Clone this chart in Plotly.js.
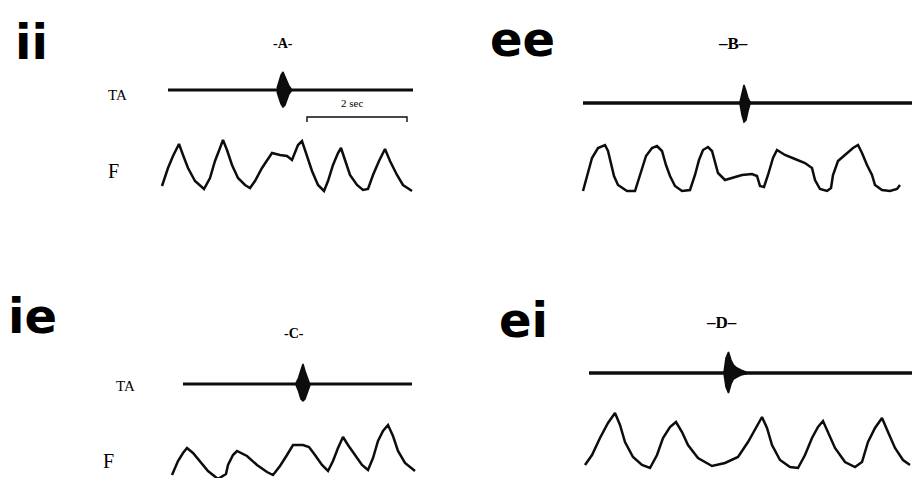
<!DOCTYPE html>
<html>
<head>
<meta charset="utf-8">
<script src="https://cdn.plot.ly/plotly-3.0.1.min.js"></script>
<style>
  html, body { margin: 0; padding: 0; background: #fff; }
  #chart { width: 912px; height: 478px; }
</style>
</head>
<body>
<div id="chart"></div>
<script>
// ---- Force (F) recordings: time in s, force in arbitrary units ----
const fA_t = [0.04,0.16,0.26,0.38,0.46,0.56,0.70,0.88,1.00,1.10,1.20,1.26,1.34,1.44,1.56,1.70,1.80,1.90,2.04,2.14,2.24,2.40,2.54,2.64,2.68,2.76,2.84,2.94,3.04,3.16,3.28,3.36,3.46,3.56,3.62,3.70,3.80,3.94,4.06,4.16,4.26,4.38,4.50,4.60,4.74,4.86,5.04];
const fA_v = [1.4,3.2,4.4,5.6,4.5,3.2,1.9,1.1,2.2,3.9,5.2,6.0,5.0,3.5,2.2,1.5,1.2,1.9,3.2,4.0,4.7,4.5,4.4,4.0,4.5,5.5,5.9,4.5,2.9,1.5,0.9,1.9,3.5,4.7,5.2,4.0,2.5,1.5,1.0,1.1,2.5,3.9,5.1,3.9,2.5,1.5,0.9];

const fB_t = [0.06,0.14,0.24,0.36,0.50,0.56,0.62,0.68,0.76,0.94,1.10,1.16,1.24,1.32,1.44,1.54,1.64,1.72,1.80,1.90,2.04,2.20,2.30,2.38,2.46,2.56,2.64,2.70,2.76,2.90,3.06,3.24,3.44,3.54,3.60,3.68,3.76,3.86,3.94,4.10,4.30,4.50,4.64,4.70,4.80,4.94,5.02,5.06,5.16,5.30,5.46,5.56,5.64,5.74,5.84,5.90,6.04,6.20,6.34,6.40];
const fB_v = [0.9,2.5,4.2,5.2,5.5,4.9,3.5,2.4,1.5,0.9,0.9,1.9,3.2,4.4,5.2,5.4,4.9,3.5,2.4,1.4,0.9,1.0,2.5,4.0,5.0,5.3,4.9,3.7,2.7,2.0,2.2,2.5,2.6,2.4,1.4,1.3,2.5,4.2,5.0,4.5,4.1,3.7,3.2,2.0,1.1,0.9,1.2,2.5,3.9,4.5,5.2,5.5,4.7,3.5,2.5,1.5,1.0,0.9,1.1,1.5];

const fC_t = [0.24,0.36,0.46,0.54,0.66,0.80,0.96,1.16,1.32,1.36,1.46,1.54,1.74,1.94,2.14,2.26,2.40,2.54,2.66,2.86,2.98,3.10,3.24,3.36,3.46,3.56,3.66,3.76,3.90,4.04,4.16,4.26,4.36,4.46,4.56,4.66,4.76,4.90,5.10];
const fC_v = [0.5,1.9,2.7,3.2,2.7,1.9,0.9,0.1,0.6,1.5,2.5,2.9,2.4,1.5,0.8,0.5,1.4,2.5,3.5,3.5,3.3,2.5,1.5,0.9,1.9,3.2,4.3,3.5,2.5,1.5,1.0,2.2,3.9,4.9,5.5,4.4,2.9,1.7,0.9];

const fD_t = [0.10,0.24,0.40,0.56,0.70,0.80,0.90,1.06,1.24,1.40,1.54,1.66,1.80,1.92,2.04,2.16,2.36,2.64,2.90,3.16,3.36,3.54,3.64,3.74,3.84,4.00,4.20,4.36,4.50,4.64,4.76,4.86,4.96,5.10,5.30,5.50,5.64,5.76,5.90,6.04,6.16,6.30,6.46,6.60];
const fD_v = [1.0,2.0,3.7,5.2,6.2,5.0,3.3,1.8,1.0,0.7,2.0,3.7,4.8,5.3,4.3,3.0,1.7,0.9,1.2,1.8,3.3,5.0,5.8,4.7,3.0,1.5,0.8,0.7,2.0,3.7,4.8,5.4,4.3,2.7,1.3,0.8,1.3,3.3,4.7,5.7,4.3,2.7,1.5,1.0];

// ---- Tibialis anterior (TA) EMG: record span (s) and burst envelope ----
const taA_span = [0.16, 5.06];
const burstA_t  = [2.34, 2.38, 2.42, 2.46, 2.50, 2.54, 2.58, 2.62];
const burstA_up = [0.15, 0.8, 1.5, 1.8, 1.3, 0.8, 0.4, 0.15];
const burstA_dn = [0.15, 0.8, 1.4, 1.7, 1.5, 1.0, 0.4, 0.15];

const taB_span = [0.06, 6.64];
const burstB_t  = [3.20, 3.24, 3.28, 3.32, 3.36, 3.40];
const burstB_up = [0.1, 0.9, 1.8, 1.2, 0.5, 0.1];
const burstB_dn = [0.1, 1.2, 1.9, 1.7, 0.8, 0.1];

const taC_span = [0.46, 5.04];
const burstC_t  = [2.72, 2.77, 2.82, 2.86, 2.90, 2.95, 3.00];
const burstC_up = [0.1, 0.6, 1.4, 2.0, 1.3, 0.6, 0.1];
const burstC_dn = [0.1, 0.7, 1.5, 1.7, 1.5, 0.8, 0.1];

const taD_span = [0.18, 6.64];
const burstD_t  = [2.88, 2.92, 2.97, 3.02, 3.07, 3.14, 3.22, 3.32];
const burstD_up = [0.1, 1.5, 2.1, 1.3, 0.8, 0.5, 0.3, 0.1];
const burstD_dn = [0.1, 1.4, 2.0, 1.1, 0.6, 0.4, 0.2, 0.1];

// Time calibration bar (s)
const scaleBarStart = 2.94;
const scaleBarSec = 2;

// ---- Drawing ----
const INK = '#0d0d0d';
const W = 912, H = 478;
const px = (x) => x / W;
const py = (y) => 1 - y / H;

function panel(ax, fT, fV, taSpan, taBase, bT, bUp, bDn, taWidth) {
  const xa = 'x' + ax, ya = 'y' + ax;
  const burstX = bT.concat(bT.slice().reverse());
  const burstY = bUp.map(u => taBase + u).concat(bDn.map(d => taBase - d).reverse());
  return [
    { x: fT, y: fV, xaxis: xa, yaxis: ya, mode: 'lines', name: 'F',
      line: { color: INK, width: 2.5 }, hoverinfo: 'skip' },
    { x: taSpan, y: [taBase, taBase], xaxis: xa, yaxis: ya, mode: 'lines', name: 'TA',
      line: { color: INK, width: taWidth }, hoverinfo: 'skip' },
    { x: burstX, y: burstY, xaxis: xa, yaxis: ya, mode: 'lines', fill: 'toself', name: 'TA burst',
      fillcolor: INK, line: { color: INK, width: 1.5 }, hoverinfo: 'skip' }
  ];
}

const traces = [].concat(
  panel('',  fA_t, fA_v, taA_span, 11.0, burstA_t, burstA_up, burstA_dn, 3),
  panel('2', fB_t, fB_v, taB_span, 9.7,  burstB_t, burstB_up, burstB_dn, 3.5),
  panel('3', fC_t, fC_v, taC_span, 9.6,  burstC_t, burstC_up, burstC_dn, 3),
  panel('4', fD_t, fD_v, taD_span, 10.2, burstD_t, burstD_up, burstD_dn, 3.5)
);

// calibration bar under the TA record of panel A
traces.push({
  x: [scaleBarStart, scaleBarStart, scaleBarStart + scaleBarSec, scaleBarStart + scaleBarSec],
  y: [7.8, 8.3, 8.3, 7.8], xaxis: 'x', yaxis: 'y', mode: 'lines', name: 'scale',
  line: { color: INK, width: 1.4 }, hoverinfo: 'skip'
});

const hidden = { visible: false, showgrid: false, zeroline: false, fixedrange: true };

const serif = 'Liberation Serif';
const bigFont = { family: 'DejaVu Sans', size: 48, color: '#000', weight: 'bold' };

function label(text, x, y, font) {
  return { text: text, x: px(x), y: py(y), xref: 'paper', yref: 'paper',
           xanchor: 'center', yanchor: 'middle', showarrow: false, font: font };
}

const annotations = [
  label('ii', 31, 42, bigFont),
  label('ee', 522, 39, bigFont),
  label('ie', 32, 316, bigFont),
  label('ei', 523, 320, bigFont),
  label('-A-', 283, 43, { family: serif, size: 14, color: '#000', weight: 'bold' }),
  label('–B–', 733, 43, { family: serif, size: 17, color: '#000', weight: 'bold' }),
  label('-C-', 294, 333, { family: serif, size: 14, color: '#000', weight: 'bold' }),
  label('–D–', 721, 322, { family: serif, size: 17, color: '#000', weight: 'bold' }),
  label('TA', 117, 95, { family: serif, size: 15, color: '#000' }),
  label('F', 113, 171, { family: serif, size: 20, color: '#000' }),
  label('TA', 125, 386, { family: serif, size: 15, color: '#000' }),
  label('F', 108, 461, { family: serif, size: 20, color: '#000' }),
  label('2 sec', 352, 103, { family: serif, size: 11, color: '#000' })
];

const layout = {
  width: W, height: H,
  margin: { l: 0, r: 0, t: 0, b: 0 },
  paper_bgcolor: '#fff', plot_bgcolor: 'rgba(0,0,0,0)',
  showlegend: false,
  xaxis:  Object.assign({}, hidden, { domain: [px(160), px(420)], range: [0, 5.2],  anchor: 'y' }),
  yaxis:  Object.assign({}, hidden, { domain: [py(200), py(60)],  range: [0, 14],   anchor: 'x' }),
  xaxis2: Object.assign({}, hidden, { domain: [px(580), 1],       range: [0, 6.64], anchor: 'y2' }),
  yaxis2: Object.assign({}, hidden, { domain: [py(200), py(70)],  range: [0, 13],   anchor: 'x2' }),
  xaxis3: Object.assign({}, hidden, { domain: [px(160), px(420)], range: [0, 5.2],  anchor: 'y3' }),
  yaxis3: Object.assign({}, hidden, { domain: [0, py(355)],       range: [0.2, 12.5], anchor: 'x3' }),
  xaxis4: Object.assign({}, hidden, { domain: [px(580), 1],       range: [0, 6.64], anchor: 'y4' }),
  yaxis4: Object.assign({}, hidden, { domain: [py(475), py(345)], range: [0, 13],   anchor: 'x4' }),
  annotations: annotations
};

Plotly.newPlot('chart', traces, layout, { displayModeBar: false, staticPlot: true });
</script>
</body>
</html>
